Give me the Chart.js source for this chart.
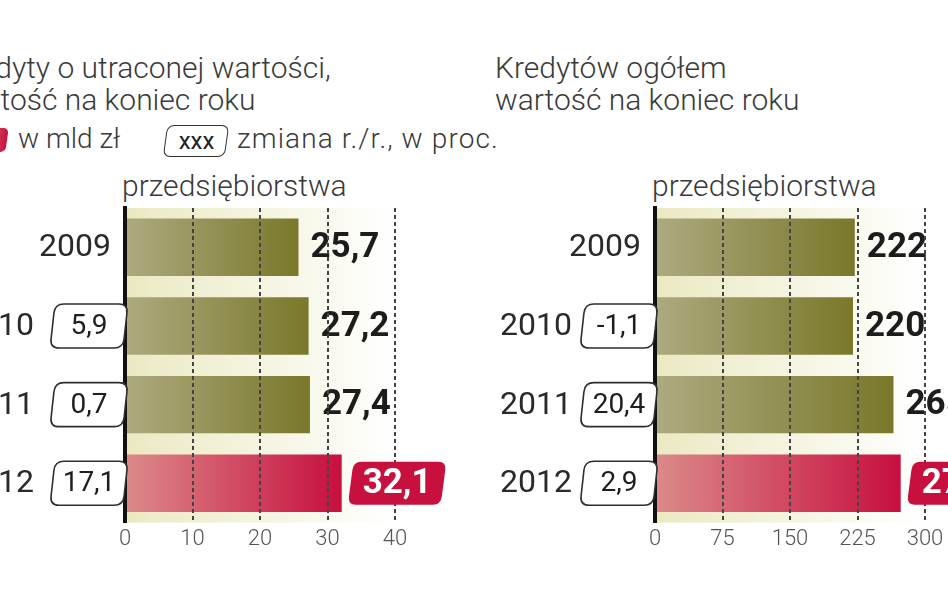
<!DOCTYPE html>
<html><head><meta charset="utf-8">
<script src="https://cdn.jsdelivr.net/npm/chart.js@4"></script>
<style>
html,body{margin:0;padding:0;background:#fff;}
body{width:948px;height:593px;overflow:hidden;position:relative;font-family:Roboto,'Open Sans',sans-serif;color:#3a3a3a;}
.t{position:absolute;white-space:nowrap;font-weight:300;}
.title{font-size:30px;line-height:32px;top:52px;}
.sub{font-size:30px;line-height:36px;top:168px;}
.leg{font-size:28px;line-height:33px;top:122px;}
.swatch{position:absolute;left:-20px;top:128px;width:27px;height:24px;border-radius:5px;transform:skewX(-8deg);background:linear-gradient(90deg,#d97b80,#c8103e);}
.xbox{position:absolute;left:165px;top:125px;width:60px;height:30px;border:1.6px solid #333;border-radius:7px;transform:skewX(-8deg);background:#fff;}
.xtxt{position:absolute;left:165px;top:125px;width:63px;height:33px;line-height:33px;text-align:center;font-size:24px;font-weight:400;color:#222;}
canvas{position:absolute;}
</style>
</head><body>
<div class="t title" style="left:-49px">Kredyty o utraconej wartości,<br>wartość na koniec roku</div>
<div class="t title" style="left:495px">Kredytów ogółem<br>wartość na koniec roku</div>
<div class="swatch"></div>
<div class="t leg" style="left:18px">w mld zł</div>
<div class="xbox"></div><div class="t xtxt">xxx</div>
<div class="t leg" style="left:237px;letter-spacing:1.1px">zmiana r./r., w proc.</div>
<div class="t sub" style="left:122px">przedsiębiorstwa</div>
<div class="t sub" style="left:652px">przedsiębiorstwa</div>
<canvas id="c1" width="500" height="397" style="left:-35px;top:196px"></canvas>
<canvas id="c2" width="500" height="397" style="left:495px;top:196px"></canvas>
<script>
// ---- data ----
const categories = ['2009', '2010', '2011', '2012'];
const impairedValues = [25.7, 27.2, 27.4, 32.1];      // w mld zł
const impairedChange = [null, 5.9, 0.7, 17.1];        // zmiana r./r., w proc.
const totalValues = [222, 220, 265, 273];             // w mld zł
const totalChange = [null, -1.1, 20.4, 2.9];          // zmiana r./r., w proc.
const impairedTicks = [0, 10, 20, 30, 40];
const totalTicks = [0, 75, 150, 225, 300];
const highlightIndex = 3;

const plFmt = (v, d) => v.toFixed(d).replace('.', ',');

function slantBox(ctx, cx, cy, w, h, r, skew, fill, stroke, lw) {
  ctx.save();
  ctx.translate(cx, cy);
  ctx.transform(1, 0, -skew, 1, 0, 0);
  const x = -w / 2, y = -h / 2;
  ctx.beginPath();
  ctx.moveTo(x + r, y);
  ctx.lineTo(x + w - r, y); ctx.quadraticCurveTo(x + w, y, x + w, y + r);
  ctx.lineTo(x + w, y + h - r); ctx.quadraticCurveTo(x + w, y + h, x + w - r, y + h);
  ctx.lineTo(x + r, y + h); ctx.quadraticCurveTo(x, y + h, x, y + h - r);
  ctx.lineTo(x, y + r); ctx.quadraticCurveTo(x, y, x + r, y);
  ctx.closePath();
  ctx.fillStyle = fill; ctx.fill();
  if (stroke) { ctx.lineWidth = lw; ctx.strokeStyle = stroke; ctx.stroke(); }
  ctx.restore();
}

const bgPlugin = {
  id: 'plotBg',
  beforeDatasetsDraw(chart) {
    const { ctx, chartArea: a } = chart;
    const g = ctx.createLinearGradient(a.left, 0, a.right, 0);
    g.addColorStop(0, '#ebe9c2');
    g.addColorStop(1, '#ffffff');
    ctx.save(); ctx.fillStyle = g; ctx.fillRect(a.left, a.top, a.right - a.left, a.bottom - a.top); ctx.restore();
  }
};

const labelPlugin = {
  id: 'panelLabels',
  afterDatasetsDraw(chart, args, o) {
    const { ctx, scales: { x, y } } = chart;
    const vals = chart.data.datasets[0].data;
    ctx.save();
    ctx.font = '700 35px Roboto';
    ctx.textBaseline = 'middle'; ctx.textAlign = 'left'; ctx.fillStyle = '#1c1c1c';
    vals.forEach((v, i) => {
      if (i === highlightIndex) return;
      ctx.fillText(plFmt(v, o.decimals), x.getPixelForValue(v) + 12, y.getPixelForValue(i) + 1);
    });
    ctx.restore();
  },
  afterDraw(chart, args, o) {
    const { ctx, scales: { x, y } } = chart;
    const vals = chart.data.datasets[0].data;
    const axisX = x.getPixelForValue(0);
    ctx.save();
    chart.data.labels.forEach((lab, i) => {
      const cy = y.getPixelForValue(i);
      const ch = o.changes[i];
      ctx.font = '400 32px Roboto'; ctx.fillStyle = '#2a2a2a';
      ctx.textBaseline = 'middle'; ctx.textAlign = 'right';
      if (ch === null) {
        ctx.fillText(lab, axisX - 14, cy + 1);
      } else {
        ctx.fillText(lab, axisX - o.labelGap, cy + 1);
        slantBox(ctx, axisX - 36, cy, 73, 44, 9, 0.11, '#ffffff', '#2e2e2e', 1.6);
        ctx.font = '400 28px Roboto'; ctx.fillStyle = '#1e1e1e'; ctx.textAlign = 'center';
        ctx.fillText(plFmt(ch, 1), axisX - 36, cy + 1);
      }
    });
    // highlighted value
    const hv = vals[highlightIndex];
    const hy = y.getPixelForValue(highlightIndex);
    const txt = plFmt(hv, o.decimals);
    ctx.font = '700 35px Roboto';
    const w = ctx.measureText(txt).width + 24;
    const bx = x.getPixelForValue(hv) + 9 + w / 2;
    slantBox(ctx, bx, hy, w, 43, 8, 0.13, '#c8103e', null, 0);
    ctx.fillStyle = '#ffffff'; ctx.textAlign = 'center'; ctx.textBaseline = 'middle';
    ctx.fillText(txt, bx, hy + 1);
    ctx.restore();
  }
};

function makeChart(id, values, changes, ticks, decimals, labelGap) {
  return new Chart(document.getElementById(id), {
    type: 'bar',
    data: {
      labels: categories,
      datasets: [{
        data: values,
        barPercentage: 0.73,
        categoryPercentage: 1,
        borderWidth: 0,
        backgroundColor: (c) => {
          const ch = c.chart, a = ch.chartArea;
          const hi = c.dataIndex === highlightIndex;
          if (!a) return hi ? '#c8103e' : '#8a8740';
          const end = ch.scales.x.getPixelForValue(values[c.dataIndex]);
          const g = ch.ctx.createLinearGradient(a.left, 0, end, 0);
          g.addColorStop(0, hi ? '#dc8a8a' : '#aeaa80');
          g.addColorStop(1, hi ? '#c70f3f' : '#79782a');
          return g;
        }
      }]
    },
    options: {
      indexAxis: 'y',
      responsive: false,
      animation: false,
      devicePixelRatio: 1,
      layout: { padding: { left: 160, right: 70, top: 12, bottom: 36 } },
      scales: {
        x: {
          min: ticks[0], max: ticks[ticks.length - 1],
          afterBuildTicks: (s) => { s.ticks = ticks.map(v => ({ value: v })); },
          grid: {
            z: 1, drawTicks: false, lineWidth: 2,
            color: (c) => c.tick && c.tick.value === 0 ? 'rgba(0,0,0,0)' : '#444'
          },
          border: { display: false, dash: [4, 3] },
          ticks: { padding: 4, color: '#555', font: { family: 'Roboto', size: 22, weight: 300 } }
        },
        y: {
          grid: { display: false, drawTicks: false },
          border: { display: true, color: '#111', width: 4, z: 1 },
          ticks: { display: false }
        }
      },
      plugins: {
        legend: { display: false },
        tooltip: { enabled: false },
        panelLabels: { changes: changes, decimals: decimals, labelGap: labelGap }
      }
    },
    plugins: [bgPlugin, labelPlugin]
  });
}

makeChart('c1', impairedValues, impairedChange, impairedTicks, 1, 91);
makeChart('c2', totalValues, totalChange, totalTicks, 0, 83);
</script>
</body></html>
